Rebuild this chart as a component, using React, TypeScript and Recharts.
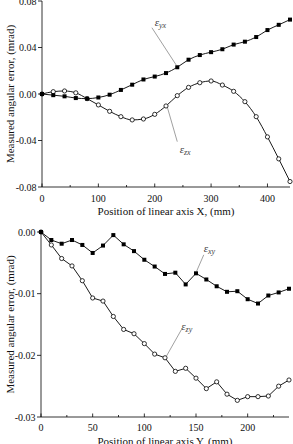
import React from 'react';
import { LineChart, Line, XAxis, YAxis, ReferenceLine, ReferenceDot, Label } from 'recharts';

// Upper panel: linear axis X
const posX = [0, 20, 40, 60, 80, 100, 120, 140, 160, 180, 200, 220, 240, 260, 280, 300, 320, 340, 360, 380, 400, 420, 440];
const epsYX = [0, -0.001, -0.002, -0.0035, -0.004, -0.003, -0.0006, 0.0035, 0.008, 0.0125, 0.015, 0.018, 0.023, 0.0295, 0.0335, 0.036, 0.0385, 0.0425, 0.045, 0.049, 0.055, 0.0595, 0.064];
const epsZX = [0, 0.002, 0.0026, 0.001, -0.004, -0.0094, -0.0149, -0.0195, -0.0223, -0.0215, -0.0175, -0.0103, -0.0014, 0.0057, 0.0097, 0.0112, 0.0077, 0.0023, -0.0066, -0.0195, -0.0369, -0.0558, -0.0753];
const topXTicks = [0, 50, 100, 150, 200, 250, 300, 350, 400];
const topYTicks = [-0.08, -0.04, 0, 0.04, 0.08];

// Lower panel: linear axis Y
const posY = [0, 10, 20, 30, 40, 50, 60, 70, 80, 90, 100, 110, 120, 130, 140, 150, 160, 170, 180, 190, 200, 210, 220, 230, 240];
const epsXY = [0, -0.0013, -0.0019, -0.0013, -0.0021, -0.0034, -0.0022, -0.0005, -0.002, -0.0031, -0.0045, -0.0056, -0.0068, -0.0066, -0.0085, -0.0067, -0.0077, -0.0088, -0.0097, -0.0096, -0.0109, -0.0116, -0.0103, -0.0098, -0.0092];
const epsZY = [0, -0.0021, -0.0043, -0.0055, -0.0079, -0.0107, -0.0112, -0.0137, -0.0158, -0.0165, -0.0181, -0.0198, -0.0204, -0.0226, -0.0221, -0.0237, -0.0254, -0.0243, -0.0263, -0.0273, -0.0267, -0.0267, -0.0266, -0.025, -0.024];
const bottomXTicks = [0, 25, 50, 75, 100, 125, 150, 175, 200, 225];
const bottomYTicks = [-0.03, -0.02, -0.01, 0];

const yLabelText = 'Measured angular error, (mrad)';
const FONT = '"Liberation Serif", "Times New Roman", serif';

const topData = posX.map((x, i) => ({ x, yx: epsYX[i], zx: epsZX[i] }));
const bottomData = posY.map((x, i) => ({ x, xy: epsXY[i], zy: epsZY[i] }));

const squareDot = (p: any) => (
  <rect key={`s${p.index}`} x={p.cx - 2} y={p.cy - 2} width={4} height={4} fill="#000" />
);
const circleDot = (p: any) => (
  <circle key={`c${p.index}`} cx={p.cx} cy={p.cy} r={2.1} fill="#fff" stroke="#000" strokeWidth={0.8} />
);

const makeXTick = (major: number, dyLabel: number) => (p: any) => {
  const v = p.payload.value;
  const isMajor = v % major === 0;
  return (
    <g>
      <line x1={p.x} x2={p.x} y1={p.y} y2={p.y - (isMajor ? 3.5 : 2)} stroke="#000" strokeWidth={0.8} />
      {isMajor && (
        <text x={p.x} y={p.y + dyLabel} textAnchor="middle" fontSize={10} fontFamily={FONT} fill="#111">
          {v}
        </text>
      )}
    </g>
  );
};

const makeYTick = () => (p: any) => {
  const v = Number(p.payload.value);
  const txt = Math.abs(v) < 1e-9 ? '0.00' : v.toFixed(2);
  return (
    <g>
      <line x1={p.x - 4} x2={p.x} y1={p.y} y2={p.y} stroke="#000" strokeWidth={0.8} />
      <text x={p.x - 5.5} y={p.y} dy="0.35em" textAnchor="end" fontSize={10} fontFamily={FONT} fill="#111">
        {txt}
      </text>
    </g>
  );
};

const epsLabel = (sub: string) => (p: any) => (
  <text x={p.cx} y={p.cy} dy="0.3em" textAnchor="middle" fontFamily={FONT} fontStyle="italic" fill="#444">
    <tspan fontSize={11}>ε</tspan>
    <tspan fontSize={8} dy="2">{sub}</tspan>
  </text>
);

const yAxisTitle = (cx: number) => (props: any) => {
  const vb = props.viewBox;
  const cy = vb.y + vb.height / 2;
  return (
    <text x={cx} y={cy} transform={`rotate(-90 ${cx} ${cy})`} dy="0.35em" textAnchor="middle" fontSize={11} fontFamily={FONT} fill="#111">
      {yLabelText}
    </text>
  );
};

const xAxisTitle = (text: string, dy: number) => (props: any) => {
  const vb = props.viewBox;
  return (
    <text x={vb.x + vb.width / 2} y={vb.y + dy} textAnchor="middle" fontSize={11} fontFamily={FONT} fill="#111">
      {text}
    </text>
  );
};

export default function App() {
  return (
    <div style={{ position: 'absolute', left: 0, top: 0, width: 293, height: 444, background: '#fff', fontFamily: FONT }}>
      <div style={{ position: 'absolute', left: 0, top: 0 }}>
        <LineChart width={293} height={222} data={topData} margin={{ top: 1, right: 3, left: 0, bottom: 0 }}>
          <XAxis
            dataKey="x"
            type="number"
            domain={[0, 440]}
            ticks={topXTicks}
            interval={0}
            height={35}
            tickSize={0}
            tickMargin={0}
            tickLine={false}
            tick={makeXTick(100, 15)}
            stroke="#000"
            strokeWidth={0.8}
          >
            <Label content={xAxisTitle('Position of linear axis X, (mm)', 28)} />
          </XAxis>
          <YAxis
            type="number"
            domain={[-0.08, 0.08]}
            ticks={topYTicks}
            interval={0}
            width={42}
            tickSize={0}
            tickMargin={0}
            tickLine={false}
            tick={makeYTick()}
            stroke="#000"
            strokeWidth={0.8}
          >
            <Label content={yAxisTitle(10)} />
          </YAxis>
          <ReferenceLine segment={[{ x: 195, y: 0.057 }, { x: 238, y: 0.025 }]} stroke="#777" strokeWidth={0.7} />
          <ReferenceLine segment={[{ x: 222, y: -0.0108 }, { x: 240, y: -0.041 }]} stroke="#777" strokeWidth={0.7} />
          <ReferenceDot x={210} y={0.063} r={0} shape={epsLabel('yx')} />
          <ReferenceDot x={254} y={-0.047} r={0} shape={epsLabel('zx')} />
          <Line dataKey="zx" type="monotone" stroke="#000" strokeWidth={0.9} dot={circleDot} isAnimationActive={false} />
          <Line dataKey="yx" type="monotone" stroke="#000" strokeWidth={0.9} dot={squareDot} isAnimationActive={false} />
        </LineChart>
      </div>
      <div style={{ position: 'absolute', left: 0, top: 222 }}>
        <LineChart width={293} height={222} data={bottomData} margin={{ top: 10, right: 4, left: 0, bottom: 0 }}>
          <XAxis
            dataKey="x"
            type="number"
            domain={[0, 240]}
            ticks={bottomXTicks}
            interval={0}
            height={27}
            tickSize={0}
            tickMargin={0}
            tickLine={false}
            tick={makeXTick(50, 14)}
            stroke="#000"
            strokeWidth={0.8}
          >
            <Label content={xAxisTitle('Position of linear axis Y, (mm)', 27.5)} />
          </XAxis>
          <YAxis
            type="number"
            domain={[-0.03, 0]}
            ticks={bottomYTicks}
            interval={0}
            width={41}
            tickSize={0}
            tickMargin={0}
            tickLine={false}
            tick={makeYTick()}
            stroke="#000"
            strokeWidth={0.8}
          >
            <Label content={yAxisTitle(10)} />
          </YAxis>
          <ReferenceLine segment={[{ x: 157.5, y: -0.0037 }, { x: 150.5, y: -0.0064 }]} stroke="#777" strokeWidth={0.7} />
          <ReferenceLine segment={[{ x: 136, y: -0.0158 }, { x: 121.5, y: -0.0201 }]} stroke="#777" strokeWidth={0.7} />
          <ReferenceDot x={163} y={-0.0024} r={0} shape={epsLabel('xy')} />
          <ReferenceDot x={141} y={-0.0151} r={0} shape={epsLabel('zy')} />
          <Line dataKey="zy" type="linear" stroke="#000" strokeWidth={0.9} dot={circleDot} isAnimationActive={false} />
          <Line dataKey="xy" type="linear" stroke="#000" strokeWidth={0.9} dot={squareDot} isAnimationActive={false} />
        </LineChart>
      </div>
    </div>
  );
}
